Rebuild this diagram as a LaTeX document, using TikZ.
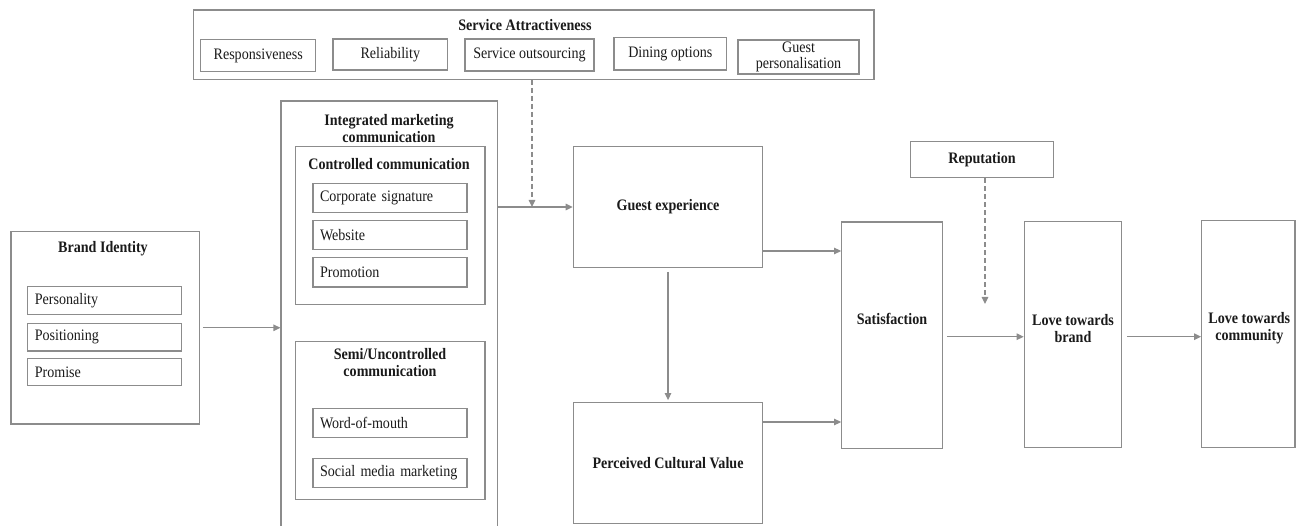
\documentclass[tikz,border=0pt]{standalone}
\usepackage{fontspec}
\usepackage{tikz}
\usepackage{xcolor}
\usetikzlibrary{arrows.meta, positioning, calc}
\setmainfont{Liberation Serif}[FakeStretch=0.88]
\definecolor{linegray}{HTML}{8C8C8C}
\definecolor{inkgray}{HTML}{1A1A1A}
\tikzstyle{frame} = [rectangle, draw=linegray, line width=1.2pt, inner sep=0pt]
\tikzstyle{item} = [rectangle, draw=linegray, line width=1.2pt, inner sep=0pt,
                    text=inkgray, font=\fontsize{16}{16}\selectfont, align=center]
\tikzstyle{listitem} = [item, inner xsep=7pt, text width=140pt, align=left]
\tikzstyle{head} = [text=inkgray, font=\bfseries\fontsize{16}{16.7}\selectfont,
                    align=center, inner sep=0pt]
\tikzstyle{arrow} = [-{Triangle[length=7pt, width=6.5pt]}, draw=linegray, line width=1.2pt]
\tikzstyle{dasharrow} = [arrow, dash pattern=on 5pt off 3pt]

\begin{document}
\begin{tikzpicture}[x=1pt, y=-1pt]
    \useasboundingbox (0,0) rectangle (1297,526);

    % service attractiveness
    \node[frame, minimum width=680.7pt, minimum height=69.3pt] (svc) at (533.7,44.7) {};
    \node[head] (svctitle) at (525,25) {Service Attractiveness};
    \node[item, minimum width=115pt, minimum height=32pt] (resp) at (258.2,55.5) {Responsiveness};
    \node[item, minimum width=114.7pt, minimum height=31pt] (reli) at (390.3,54.5) {Reliability};
    \node[item, minimum width=129pt, minimum height=32pt] (outs) at (529.5,55) {Service outsourcing};
    \node[item, minimum width=112.7pt, minimum height=32.3pt] (dine) at (670.3,53.8) {Dining options};
    \node[item, minimum width=121pt, minimum height=34pt] (gpers) at (798.5,57) {Guest\\personalisation};

    % brand identity
    \node[frame, minimum width=188.3pt, minimum height=192.3pt] (bi) at (105.2,327.8) {};
    \node[head] (bititle) at (103,248.3) {Brand Identity};
    \node[listitem, minimum height=27.6pt] (pers) at (104.8,300.5) {Personality};
    \node[listitem, minimum height=27.3pt] (posi) at (104.8,337.3) {Positioning};
    \node[listitem, minimum height=27.4pt] (prom) at (104.8,372) {Promise};

    % integrated marketing communication
    \node[frame, minimum width=216.3pt, minimum height=439pt] (imc) at (389.2,320.5) {};
    \node[head] (imctitle) at (389,128.5) {Integrated marketing\\communication};
    \node[frame, minimum width=189.3pt, minimum height=157.6pt] (ctrl) at (390.3,225.5) {};
    \node[head] (ctrltitle) at (389,164.3) {Controlled communication};
    \node[listitem, minimum height=29pt] (corp) at (390,197.8) {Corporate signature};
    \node[listitem, minimum height=28.6pt] (web) at (390,235) {Website};
    \node[listitem, minimum height=29.3pt] (promo) at (390,272.3) {Promotion};
    \node[frame, minimum width=189.3pt, minimum height=157.6pt] (semi) at (390.3,420.5) {};
    \node[head] (semititle) at (390,362.7) {Semi/Uncontrolled\\communication};
    \node[listitem, minimum height=29pt] (wom) at (390,422.8) {Word-of-mouth};
    \node[listitem, minimum height=29pt] (smm) at (390,472.8) {Social media marketing};

    % outcomes
    \node[frame, minimum width=189.4pt, minimum height=120.6pt, head] (ge) at (668,207) {Guest experience};
    \node[frame, minimum width=189.4pt, minimum height=120.6pt, head] (pcv) at (668,463) {Perceived Cultural Value};
    \node[frame, minimum width=100.6pt, minimum height=226.3pt] (sat) at (892,335.2) {};
    \node[head] (sattext) at (892,319.3) {Satisfaction};
    \node[frame, minimum width=142.6pt, minimum height=36pt, head] (rep) at (982,159.7) {Reputation};
    \node[frame, minimum width=97.4pt, minimum height=226pt] (ltb) at (1073,334.7) {};
    \node[head] (ltbtext) at (1073,328.7) {Love towards\\brand};
    \node[frame, minimum width=93.3pt, minimum height=227pt] (ltc) at (1248.3,334.2) {};
    \node[head] (ltctext) at (1249.3,327.9) {Love towards\\community};

    \coordinate (svcin) at (532,207);
    \coordinate (repin) at (985,304);

    \draw[arrow, shorten <=3pt] (bi.east) -- (bi.east -| imc.west);
    \draw[arrow] (ge.west -| imc.east) -- (ge.west);
    \draw[dasharrow] (svc.south -| svcin) -- (svcin);
    \draw[arrow, shorten <=4pt, shorten >=2pt] (ge.south) -- (pcv.north);
    \draw[arrow] (ge.east |- 0,251) -- (sat.west |- 0,251);
    \draw[arrow] (pcv.east |- 0,422) -- (sat.west |- 0,422);
    \draw[arrow, shorten <=4pt] (sat.east |- 0,336.7) -- (ltb.west |- 0,336.7);
    \draw[arrow, shorten <=5pt] (ltb.east |- 0,336.7) -- (ltc.west |- 0,336.7);
    \draw[dasharrow] (rep.south -| repin) -- (repin);
\end{tikzpicture}
\end{document}
